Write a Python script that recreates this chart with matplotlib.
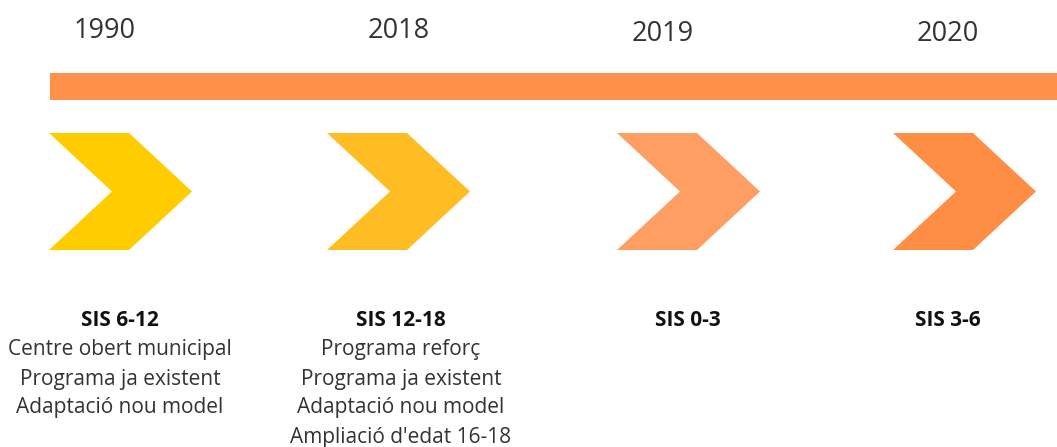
import matplotlib
matplotlib.use("Agg")
import matplotlib.pyplot as plt
from matplotlib.patches import Polygon, Rectangle

# ---- data ----
years = ["1990", "2018", "2019", "2020"]
titles = ["SIS 6-12", "SIS 12-18", "SIS 0-3", "SIS 3-6"]
descriptions = [
    ["Centre obert municipal", "Programa ja existent", "Adaptació nou model"],
    ["Programa reforç", "Programa ja existent", "Adaptació nou model", "Ampliació d'edat 16-18"],
    [],
    [],
]
chevron_colors = ["#FFCC00", "#FFBD24", "#FF9E63", "#FF8E45"]
bar_color = "#FF914D"

# ---- layout (pixels) ----
W, H = 1057, 447
year_x = [105, 399, 663, 948]
year_y = [30, 30, 33, 33]
chev_left = [49, 327, 617, 893]
label_x = [120, 401, 688, 948]
chev_top, chev_bot = 133, 250
chev_top_w, chev_depth, chev_tip = 80, 63, 143

fig = plt.figure(figsize=(W / 100, H / 100), dpi=100)
ax = fig.add_axes([0, 0, 1, 1])
ax.set_xlim(0, W)
ax.set_ylim(H, 0)
ax.axis("off")

ax.add_patch(Rectangle((50, 73), W - 50, 27, color=bar_color, lw=0))

mid = (chev_top + chev_bot) / 2
for i, (yr, col) in enumerate(zip(years, chevron_colors)):
    ax.text(year_x[i], year_y[i] + 1, yr, fontsize=19.5, family="Open Sans",
            color="#333333", ha="center", va="center")
    x0 = chev_left[i]
    pts = [(x0, chev_top), (x0 + chev_top_w, chev_top), (x0 + chev_tip, mid),
           (x0 + chev_top_w, chev_bot), (x0, chev_bot), (x0 + chev_depth, mid)]
    ax.add_patch(Polygon(pts, closed=True, color=col, lw=0))
    ax.text(label_x[i], 321, titles[i], fontsize=15, family="Open Sans",
            fontweight="bold", color="#111111", ha="center", va="center")
    for j, line in enumerate(descriptions[i]):
        ax.text(label_x[i], 350 + 29 * j, line, fontsize=15, family="Open Sans",
                color="#333333", ha="center", va="center")

fig.savefig("out.png", dpi=100, facecolor="white")
